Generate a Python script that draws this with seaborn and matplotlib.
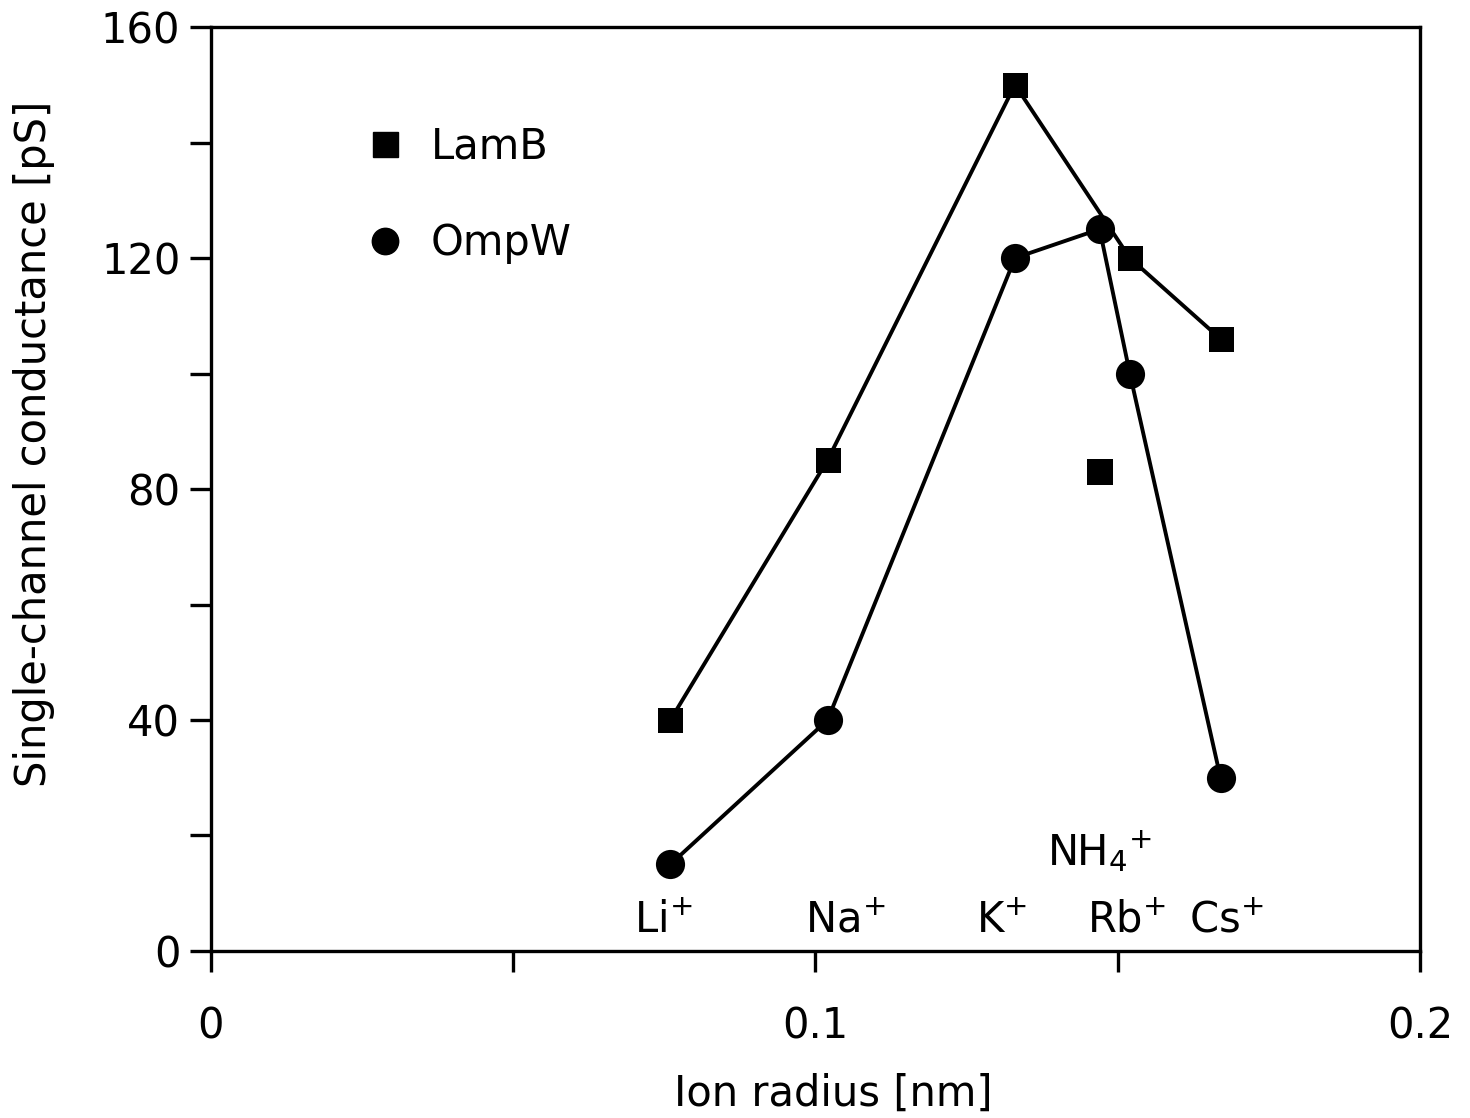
import matplotlib
matplotlib.use("Agg")
import matplotlib.pyplot as plt
from matplotlib.lines import Line2D
import seaborn as sns
import pandas as pd

ions = ["Li", "Na", "K", "NH4", "Rb", "Cs"]
radius = [0.076, 0.102, 0.133, 0.147, 0.152, 0.167]
lamb = [40, 85, 150, 83, 120, 106]
ompw = [15, 40, 120, 125, 100, 30]
ion_labels = [r"Li$^{+}$", r"Na$^{+}$", r"K$^{+}$", r"NH$_{4}$$^{+}$", r"Rb$^{+}$", r"Cs$^{+}$"]
label_x = [0.0749, 0.1049, 0.1307, 0.1470, 0.1514, 0.1679]
label_y = [3.3, 3.3, 3.3, 14.9, 3.3, 3.3]

sns.set_theme(style="white")
plt.rcParams["font.family"] = ["DejaVu Sans"]
plt.rcParams["mathtext.default"] = "regular"
plt.rcParams["text.color"] = "black"
plt.rcParams["axes.labelcolor"] = "black"

FS = 30

df = pd.DataFrame({"ion": ions, "r": radius, "LamB": lamb, "OmpW": ompw})
lamb_line = df[df["ion"] != "NH4"]
lamb_nh4 = df[df["ion"] == "NH4"]

fig = plt.figure(figsize=(14.7, 11.18), dpi=100)
ax = fig.add_axes([0.1435, 0.1494, 0.9660 - 0.1435, 0.9758 - 0.1494])

sns.lineplot(data=lamb_line, x="r", y="LamB", ax=ax, color="black", lw=2.8,
             marker="s", markersize=18, markeredgewidth=0, sort=False)
sns.scatterplot(data=lamb_nh4, x="r", y="LamB", ax=ax, color="black",
                marker="s", s=330, linewidth=0)
sns.lineplot(data=df, x="r", y="OmpW", ax=ax, color="black", lw=2.8,
             marker="o", markersize=21, markeredgewidth=0, sort=False)

for t, x, y in zip(ion_labels, label_x, label_y):
    ax.text(x, y, t, ha="center", va="baseline", fontsize=FS, color="black")

ax.set_xlim(0, 0.2)
ax.set_ylim(0, 160)
ax.set_xticks([0, 0.1, 0.2])
ax.set_xticklabels(["0", "0.1", "0.2"])
ax.set_xticks([0.05, 0.15], minor=True)
ax.set_yticks([0, 40, 80, 120, 160])
ax.set_yticks([20, 60, 100, 140], minor=True)
ax.tick_params(axis="both", which="both", direction="out", length=15, width=2.4,
               color="black", labelsize=FS, labelcolor="black", bottom=True, left=True)
ax.tick_params(axis="x", pad=24)
ax.tick_params(axis="y", pad=7)
for s in ax.spines.values():
    s.set_color("black")
    s.set_linewidth(2.4)

ax.set_xlabel("Ion radius [nm]", fontsize=FS, color="black")
ax.set_ylabel("Single-channel conductance [pS]", fontsize=FS, color="black")
ax.xaxis.set_label_coords(0.515, -0.132)
ax.yaxis.set_label_coords(-0.129, 0.549)

handles = [Line2D([], [], ls="none", marker="s", color="black", markersize=18),
           Line2D([], [], ls="none", marker="o", color="black", markersize=19)]
leg = ax.legend(handles, ["LamB", "OmpW"], loc="upper left", bbox_to_anchor=(0.113, 0.911),
                frameon=False, fontsize=FS, labelspacing=1.3, handletextpad=0.6,
                handlelength=1.0, borderpad=0.4, borderaxespad=0)
for txt in leg.get_texts():
    txt.set_color("black")

fig.savefig("out.png", dpi=100)
